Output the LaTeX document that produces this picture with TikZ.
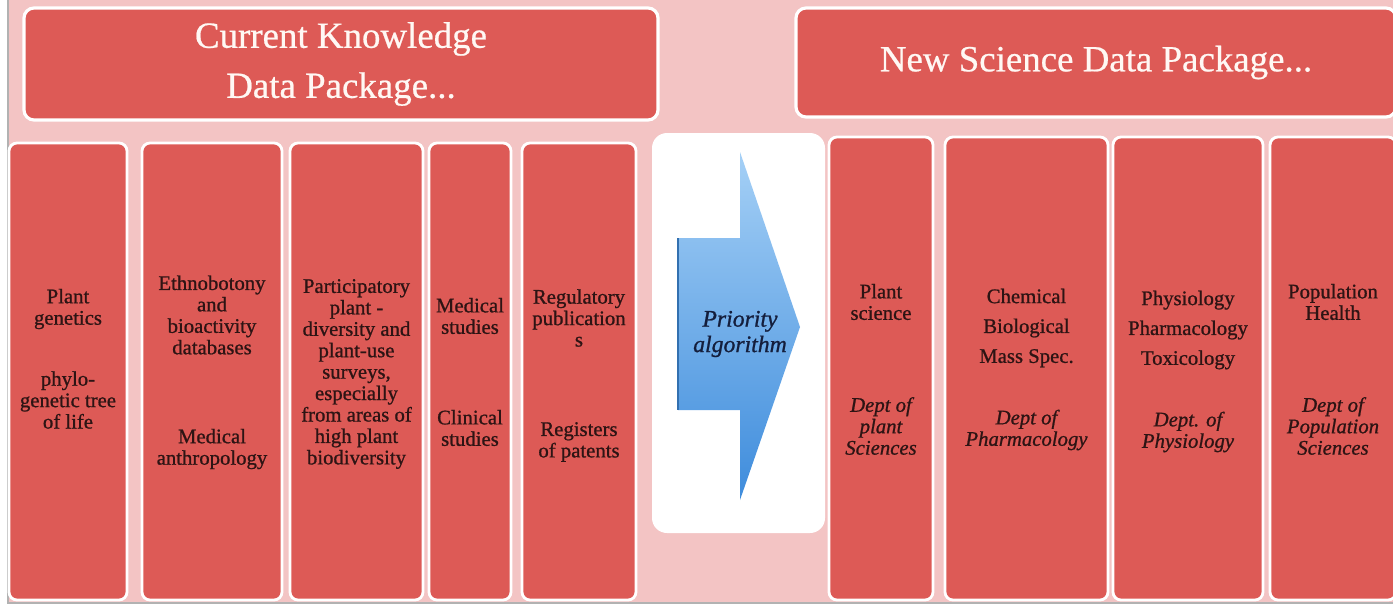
\documentclass[tikz,border=0pt]{standalone}
\usepackage{fontspec}
\setmainfont{Liberation Serif}
\newfontfamily\heavyserif{Liberation Serif}[FakeBold=0.9]
\newfontfamily\hdrserif{Liberation Serif}[FakeBold=0.6]
\definecolor{bgpink}{RGB}{243,196,196}
\definecolor{colred}{RGB}{221,90,86}
\definecolor{txtdark}{RGB}{45,20,20}
\definecolor{hdrtext}{RGB}{255,248,244}
\definecolor{arrtop}{RGB}{165,208,246}
\definecolor{arrbot}{RGB}{62,140,220}
\definecolor{arrtext}{RGB}{20,30,60}

\begin{document}
\begin{tikzpicture}[x=0.02cm, y=-0.02cm,
  col/.style={draw=white, line width=1.6pt, fill=colred, rounded corners=1.6mm, inner sep=0pt},
  hdr/.style={draw=white, line width=1.8pt, fill=colred, rounded corners=2mm, text=hdrtext,
    font=\hdrserif\fontsize{21}{28.5}\selectfont, align=center, inner sep=0pt},
  txt/.style={text=txtdark, align=center, inner sep=0pt, font=\heavyserif\fontsize{11.8}{12.2}\selectfont},
  dept/.style={txt, font=\heavyserif\itshape\fontsize{11.8}{12.2}\selectfont}]
  \useasboundingbox (0,0) rectangle (1393,606);
  % Background
  \fill[white] (0,0) rectangle (1393,606);
  \fill[bgpink] (8,0) rectangle (1393,603);
  \draw[gray!60, line width=0.8pt] (8,0) -- (8,603) -- (1393,603);
  % Headers
  \node[hdr, minimum width=634*0.02cm, minimum height=112*0.02cm] (curr) at (341,64) {Current Knowledge\\Data Package...};
  \node[hdr, minimum width=600*0.02cm, minimum height=109*0.02cm] (news) at (1096,62.5) {New Science Data Package...};
  % Columns
  \foreach \n/\x/\y/\w/\h in {c1/68/371.5/118/457, c2/212/371.5/140/457, c3/356.5/371.5/133/457,
      c4/470/371.5/82/457, c5/579/371.5/114/457, c6/881/368.5/104/463,
      c7/1026.5/368.5/163/463, c8/1188/368.5/150/463, c9/1333/368.5/126/463} {
    \node[col, minimum width=\w*0.02cm, minimum height=\h*0.02cm] (\n) at (\x,\y) {};
  }
  % Priority box and arrow
  \node[fill=white, rounded corners=3mm, inner sep=0pt, minimum width=173*0.02cm, minimum height=400*0.02cm] (algbox) at (738.5,333) {};
  \shade[top color=arrtop, bottom color=arrbot] (678,238) -- (740,238) -- (740,152) -- (800,327)
    -- (740,500) -- (740,410) -- (678,410) -- cycle;
  \draw[arrbot!80!black, line width=0.6pt] (678,238) -- (678,410);
  \node[align=center, text=arrtext, font=\heavyserif\itshape\fontsize{13.5}{14.5}\selectfont] (prio) at (740,334) {Priority\\algorithm};
  % Current knowledge texts
  \node[txt] (c1a) at (68,309) {Plant\\genetics};
  \node[txt] (c1b) at (68,400) {phylo-\\genetic tree\\of life};
  \node[txt] (c2a) at (212,315) {Ethnobotony\\and\\bioactivity\\databases};
  \node[txt] (c2b) at (212,449) {Medical\\anthropology};
  \node[txt] (c3a) at (356.5,374) {Participatory\\plant -\\diversity and\\plant-use\\surveys,\\especially\\from areas of\\high plant\\biodiversity};
  \node[txt] (c4a) at (470,316) {Medical\\studies};
  \node[txt] (c4b) at (470,428) {Clinical\\studies};
  \node[txt] (c5a) at (579,318) {Regulatory\\publication\\s};
  \node[txt] (c5b) at (579,442) {Registers\\of patents};
  % New science texts
  \node[txt] (c6a) at (881,302) {Plant\\science};
  \node[dept] (c6b) at (881,426) {Dept of\\plant\\Sciences};
  \node[txt, font=\heavyserif\fontsize{11.8}{17}\selectfont] (c7a) at (1026.5,328) {Chemical\\Biological\\Mass Spec.};
  \node[dept] (c7b) at (1026.5,430) {Dept of\\Pharmacology};
  \node[txt, font=\heavyserif\fontsize{11.8}{17}\selectfont] (c8a) at (1188,330) {Physiology\\Pharmacology\\Toxicology};
  \node[dept] (c8b) at (1188,432) {Dept. of\\Physiology};
  \node[txt] (c9a) at (1333,302) {Population\\Health};
  \node[dept] (c9b) at (1333,426) {Dept of\\Population\\Sciences};
\end{tikzpicture}
\end{document}
